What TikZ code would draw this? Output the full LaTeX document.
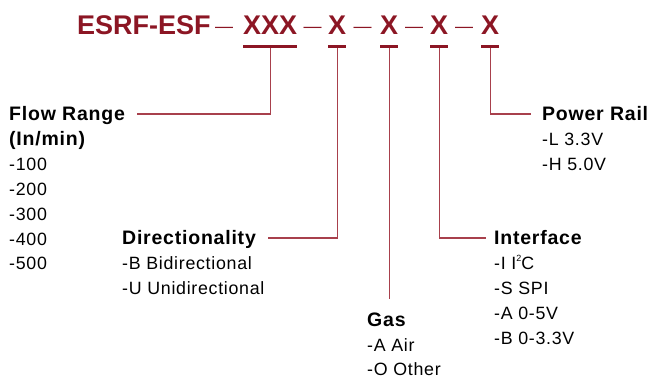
\documentclass[tikz,border=0pt]{standalone}
\usepackage{fontspec}
\setmainfont{Liberation Sans}
\newfontfamily\widesans{Liberation Sans}[LetterSpace=4]
\usetikzlibrary{positioning}
\definecolor{esfred}{RGB}{140,22,36}
\definecolor{esfline}{RGB}{168,64,76}
\newcommand{\sqtwo}{\raisebox{0.45em}{\fontsize{9}{9}\selectfont 2}}

\begin{document}
\begin{tikzpicture}[x=1pt,y=-1pt,
  part/.style={anchor=base west,inner sep=0pt,text=esfred,
    font=\fontsize{27}{30}\selectfont\bfseries},
  sep/.style={anchor=base,inner sep=0pt,text=esfred,font=\fontsize{18}{20}\selectfont},
  bar/.style={fill=esfred},
  lead/.style={draw=esfline,line width=1.3pt},
  head/.style={anchor=base west,inner sep=0pt,font=\widesans\fontsize{19.5}{24}\selectfont\bfseries},
  item/.style={anchor=base west,inner sep=0pt,font=\widesans\fontsize{17.8}{24}\selectfont}]
\useasboundingbox (0,0) rectangle (651,379);

% part number
\node[part] (model) at (77,35) {ESRF-ESF};
\node[part] (flow) at (243,35) {XXX};
\node[part] (dir) at (328,35) {X};
\node[part] (gas) at (380,35) {X};
\node[part] (iface) at (430,35) {X};
\node[part] (pwr) at (481,35) {X};
\node[sep] (s1) at (224,33) {—};
\node[sep] (s2) at (312.5,33) {—};
\node[sep] (s3) at (362.5,33) {—};
\node[sep] (s4) at (414,33) {—};
\node[sep] (s5) at (464,33) {—};

\foreach \p in {flow,dir,gas,iface,pwr}{
  \fill[bar] ([yshift=-10pt]\p.base west) rectangle ([yshift=-13.5pt]\p.base east);
  \coordinate (\p tick) at ([yshift=-13.5pt]\p.base);
}

% option groups
\node[head] (flowhead) at (9,121) {Flow Range};
\node[head] (flowunit) at (9,146) {(In/min)};
\foreach \t [count=\i from 0] in {-100,-200,-300,-400,-500}
  \node[item] (flowitem\i) at (9,{171+24.7*\i}) {\t};

\node[head] (dirhead) at (122,245) {Directionality};
\foreach \t [count=\i from 0] in {-B Bidirectional,-U Unidirectional}
  \node[item] (diritem\i) at (122,{270+24.7*\i}) {\t};

\node[head] (gashead) at (367,327) {Gas};
\foreach \t [count=\i from 0] in {-A Air,-O Other}
  \node[item] (gasitem\i) at (367,{351.5+24.3*\i}) {\t};

\node[head] (ifacehead) at (494,245) {Interface};
\foreach \t [count=\i from 0] in {-I I\sqtwo C,-S SPI,-A 0-5V,-B 0-3.3V}
  \node[item] (ifaceitem\i) at (494,{270+24.7*\i}) {\t};

\node[head] (pwrhead) at (542,121) {Power Rail};
\foreach \t [count=\i from 0] in {-L 3.3V,-H 5.0V}
  \node[item] (pwritem\i) at (542,{145.5+24.7*\i}) {\t};

% leaders
\draw[lead] (flowtick) |- ([xshift=12pt,yshift=7pt]flowhead.base east);
\draw[lead] (dirtick) |- ([xshift=12pt,yshift=7pt]dirhead.base east);
\coordinate (gasend) at ([yshift=28pt]gashead.base);
\draw[lead] (gastick) -- (gastick |- gasend);
\draw[lead] (ifacetick) |- ([xshift=-8pt,yshift=7pt]ifacehead.base west);
\draw[lead] (pwrtick) |- ([xshift=-11pt,yshift=7pt]pwrhead.base west);
\end{tikzpicture}
\end{document}
